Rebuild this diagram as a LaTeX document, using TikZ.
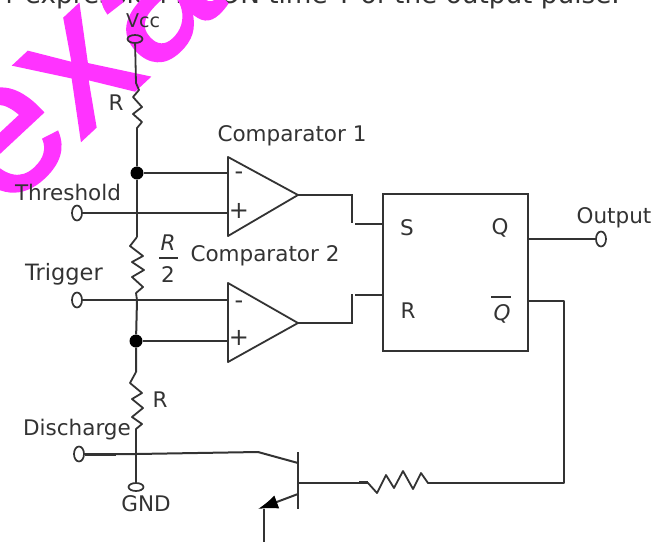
\documentclass[tikz,border=0pt]{standalone}
\usepackage{fontspec}
\setmainfont{DejaVu Sans}
\newfontfamily\wmfont[FakeBold=1.5]{Liberation Sans}
\usetikzlibrary{shapes.geometric,arrows.meta}
\definecolor{ink}{HTML}{333333}
\definecolor{wm}{HTML}{FF33FF}
\tikzset{
  wire/.style={draw=ink,line width=2pt,line join=miter},
  thin wire/.style={draw=ink,line width=1.8pt,line join=round},
  terminalv/.style={ellipse,draw=ink,line width=1.7pt,fill=none,inner sep=0pt,minimum width=10pt,minimum height=15pt},
  terminalh/.style={ellipse,draw=ink,line width=1.7pt,fill=none,inner sep=0pt,minimum width=15pt,minimum height=8pt},
  junction/.style={circle,fill=black,inner sep=0pt,minimum size=13pt},
  lbl/.style={text=ink,inner sep=0pt,font=\fontsize{21.5}{22}\selectfont},
  pin/.style={text=ink,inner sep=0pt,font=\fontsize{24}{24}\selectfont},
  watermark/.style={text=wm,inner sep=0pt,font=\wmfont\fontsize{190}{190}\selectfont,anchor=base west,rotate=43}
}
\begin{document}
\begin{tikzpicture}[x=1pt,y=-1pt]
\useasboundingbox (0,0) rectangle (654,542);
\clip (0,0) rectangle (654,542);
\fill[white] (0,0) rectangle (654,542);
% clipped sentence and watermark
\node[lbl,anchor=base east,font=\fontsize{26.3}{26}\selectfont] (sentence) at (620,3) {r expression for ON time T of the output pulse.};
\node[watermark] (mark) at (3,213) {exa};
% terminals
\node[terminalh] (vcc) at (135,39) {};
\node[terminalv] (thr) at (77,213) {};
\node[terminalv] (trg) at (77,300) {};
\node[terminalv] (dis) at (79,454) {};
\node[terminalh] (gnd) at (136,487) {};
\node[terminalv] (out) at (601,239) {};
% junctions
\node[junction] (j1) at (137,173) {};
\node[junction] (j2) at (136,341) {};
\coordinate (x1) at (137,213);
\coordinate (x2) at (137,300);
\coordinate (x3) at (136,454);
% comparators
\coordinate (c1t) at (228,157); \coordinate (c1b) at (228,236); \coordinate (c1o) at (298,195);
\coordinate (c2t) at (228,283); \coordinate (c2b) at (228,362); \coordinate (c2o) at (298,323);
\draw[thin wire] (c1t) -- (c1o) -- (c1b) -- cycle;
\draw[thin wire] (c2t) -- (c2o) -- (c2b) -- cycle;
\node[pin] (m1) at (239,176) {-};
\node[pin] (p1) at (239,211) {+};
\node[pin] (m2) at (239,305) {-};
\node[pin] (p2) at (239,338) {+};
% flip-flop
\node[draw=ink,line width=2pt,minimum width=145pt,minimum height=157pt,inner sep=0pt] (ff) at (455.5,272.5) {};
\coordinate (ffs) at (383,224); \coordinate (ffr) at (383,295);
\coordinate (ffq) at (528,239); \coordinate (ffn) at (528,301);
% resistors
\draw[thin wire] (vcc) -- (136,83) -- (139,90) -- (133,97) -- (142,107) -- (133,114) -- (142,122) -- (137,128) -- (j1);
\draw[wire] (j1) -- (x1) -- (137,237);
\draw[thin wire] (137,237) -- (130,246) -- (143,256) -- (132,262) -- (144,270) -- (132,277) -- (143,287) -- (136,293) -- (x2);
\draw[wire] (x2) -- (j2) -- (136,372);
\draw[thin wire] (136,372) -- (130,383) -- (142,393) -- (132,399) -- (143,408) -- (132,417) -- (142,424) -- (136,429) -- (x3);
\draw[wire] (x3) -- (gnd);
% inputs
\draw[wire] (j1) -- (j1 -| c1t);
\draw[wire] (thr) -- (x1) -- (x1 -| c1t);
\draw[wire] (trg) -- (x2) -- (x2 -| c2t);
\draw[wire] (j2) -- (j2 -| c2t);
% comparator outputs
\draw[wire] (c1o) -- (352,195) -- (352,223);
\draw[wire] (355,224) -- (ffs);
\draw[wire] (c2o) -- (352,323) -- (352,294);
\draw[wire] (355,295) -- (ffr);
\draw[wire] (ffq) -- (out);
% transistor
\coordinate (bt) at (298,452); \coordinate (bb) at (298,509); \coordinate (bm) at (298,483);
\coordinate (ebow) at (258,452); \coordinate (ec) at (298,463);
\coordinate (em) at (298,494); \coordinate (tip) at (258,509);
\draw[wire] (bt) -- (bb);
\draw[wire] (dis) -- (x3) -- (ebow) -- (ec);
\draw[draw=ink,line width=3pt] (dis) -- (116,454);
\draw[wire,-{Latex[length=20pt,width=14pt,color=black]}] (em) -- (tip);
\draw[wire] (264,509) -- (264,542);
% base resistor and feedback
\draw[thin wire] (bm) -- (368,483) -- (377,493) -- (386,475) -- (394,488) -- (403,471) -- (413,489) -- (421,473) -- (428,483) -- (564,483) -- (564,301) -- (ffn);
\draw[draw=ink,line width=3pt] (359,482) -- (368,482);
% labels
\node[lbl,font=\fontsize{19}{20}\selectfont] (lvcc) at (143,21) {Vcc};
\node[lbl] (lr1) at (116,103) {R};
\node[lbl] (lc1) at (292,136) {Comparator 1};
\node[lbl] (lc2) at (265,256) {Comparator 2};
\node[lbl] (lthr) at (68,192) {Threshold};
\node[lbl,font=\fontsize{22.5}{24}\selectfont] (ltrg) at (64,274) {Trigger};
\node[lbl] (ldis) at (77,430) {Discharge};
\node[lbl] (lgnd) at (146,504) {GND};
\node[lbl] (lr3) at (160,400) {R};
\node[lbl] (lout) at (614,218) {Output};
\node[lbl,font=\fontsize{21.5}{22}\selectfont\itshape] (lrr) at (168,243) {R};
\draw[thin wire] (159,258) -- (178,258);
\node[lbl] (l2) at (168,275) {2};
\node[lbl] (ls) at (407,228) {S};
\node[lbl] (lq) at (500,228) {Q};
\node[lbl] (lrb) at (408,311) {R};
\node[lbl,font=\fontsize{21.5}{22}\selectfont\itshape] (lqb) at (502,314) {Q};
\draw[thin wire] (491,297) -- (511,297);
\end{tikzpicture}
\end{document}
